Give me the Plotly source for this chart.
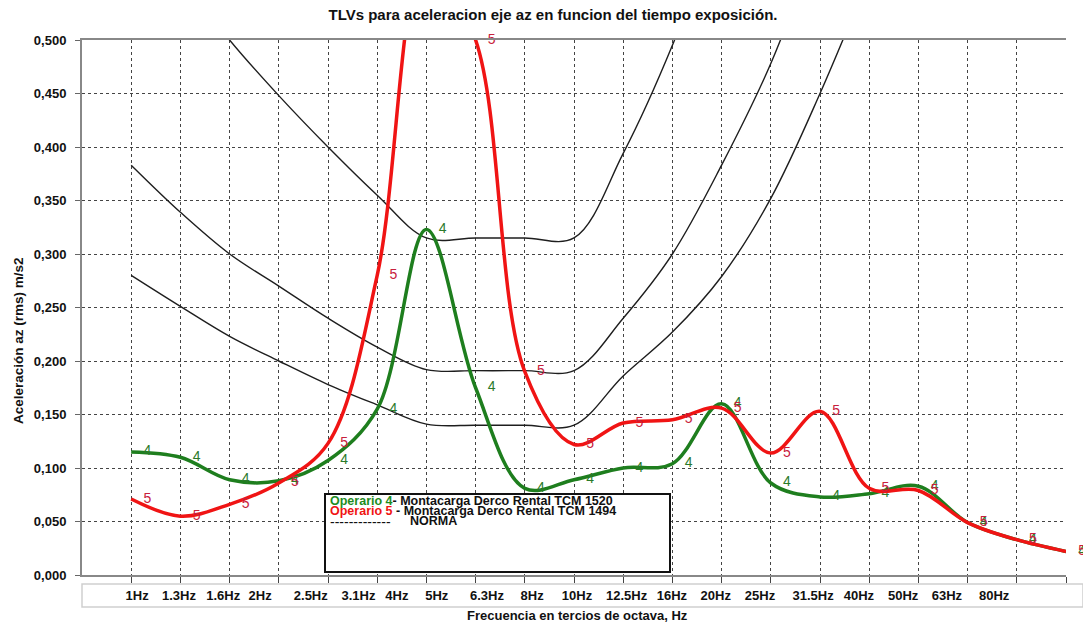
import plotly.graph_objects as go

# ---------------- data ----------------
freq_labels = ["1Hz", "1.3Hz", "1.6Hz", "2Hz", "2.5Hz", "3.1Hz", "4Hz", "5Hz", "6.3Hz", "8Hz",
               "10Hz", "12.5Hz", "16Hz", "20Hz", "25Hz", "31.5Hz", "40Hz", "50Hz", "63Hz", "80Hz"]
band_index = list(range(1, 21))

operario4 = [0.115, 0.110, 0.089, 0.088, 0.107, 0.155, 0.323, 0.175, 0.081, 0.089,
             0.100, 0.104, 0.160, 0.086, 0.073, 0.076, 0.083, 0.049, 0.033, 0.022]
operario5 = [0.071, 0.055, 0.066, 0.086, 0.123, 0.280, 0.580, 0.500, 0.190, 0.122,
             0.142, 0.145, 0.156, 0.114, 0.153, 0.081, 0.079, 0.049, 0.033, 0.022]

norma_1 = [0.630, 0.560, 0.500, 0.448, 0.400, 0.355, 0.315, 0.315, 0.315, 0.315,
           0.394, 0.495, 0.620, None, None, None, None, None, None, None]
norma_2 = [0.383, 0.339, 0.300, 0.270, 0.240, 0.213, 0.192, 0.191, 0.191, 0.191,
           0.240, 0.300, 0.383, 0.478, 0.600, None, None, None, None, None]
norma_3 = [0.280, 0.251, 0.223, 0.200, 0.178, 0.159, 0.141, 0.140, 0.140, 0.140,
           0.186, 0.227, 0.279, 0.352, 0.450, 0.560, None, None, None, None]

# ---------------- layout helpers ----------------
W, H = 1083, 625
L, R, T, B = 82, 17, 40, 50
PW, PH = W - L - R, H - T - B
FONT = "Liberation Sans, Arial, sans-serif"

def px(x):
    return (x - L) / PW

def py(y):
    return (H - B - y) / PH

# positions (in band units) where the frequency labels are printed
label_pos = [1.12, 1.97, 2.87, 3.62, 4.65, 5.62, 6.40, 7.21, 8.23, 9.15,
             10.06, 11.07, 11.99, 12.88, 13.78, 14.86, 15.79, 16.69, 17.58, 18.54]

fig = go.Figure()

for i, n in enumerate([norma_1, norma_2, norma_3]):
    fig.add_trace(go.Scatter(
        x=band_index, y=n, mode="lines", name=f"NORMA {i+1}",
        line=dict(color="#1e1e1e", width=1.4, shape="spline", smoothing=1),
        showlegend=False, hoverinfo="skip"))

fig.add_trace(go.Scatter(
    x=band_index, y=operario4, mode="lines+markers+text", name="Operario 4",
    text=["4"] * len(band_index), textposition="middle right",
    textfont=dict(family=FONT, size=14, color="#2a7a2a"),
    marker=dict(size=18, color="rgba(0,0,0,0)"),
    line=dict(color="#1e7e1e", width=3.5, shape="spline", smoothing=1),
    cliponaxis=False, showlegend=False))

fig.add_trace(go.Scatter(
    x=band_index, y=operario5, mode="lines+markers+text", name="Operario 5",
    text=["5"] * len(band_index), textposition="middle right",
    textfont=dict(family=FONT, size=14, color="#c8203c"),
    marker=dict(size=18, color="rgba(0,0,0,0)"),
    line=dict(color="#f01414", width=3.5, shape="spline", smoothing=1),
    cliponaxis=False, showlegend=False))

# invisible trace to carry the label axis
fig.add_trace(go.Scatter(x=[0, 20], y=[None, None], xaxis="x2", mode="lines",
                         showlegend=False, hoverinfo="skip"))

fig.update_layout(
    width=W, height=H,
    margin=dict(l=L, r=R, t=T, b=B, autoexpand=False),
    paper_bgcolor="white", plot_bgcolor="white",
    separators=",.",
    font=dict(family=FONT, color="#111"),
    title=dict(text="<b>TLVs para aceleracion eje az en funcion del tiempo exposición.</b>",
               x=px(553), xref="paper", xanchor="center",
               y=1 - 15 / H, yref="container", yanchor="middle",
               font=dict(family=FONT, size=15, color="#111")),
    xaxis=dict(range=[0, 20], tickvals=band_index, showticklabels=False,
               ticks="outside", ticklen=6, tickcolor="#444",
               showgrid=True, gridcolor="#444", griddash="dot", gridwidth=1,
               showline=True, linecolor="#888", linewidth=2, mirror=True,
               zeroline=False),
    xaxis2=dict(range=[0, 20], overlaying="x", anchor="y", side="bottom",
                tickvals=label_pos, ticktext=freq_labels,
                ticks="outside", ticklen=8, tickcolor="rgba(0,0,0,0)",
                tickfont=dict(family=FONT, size=13, color="#111", weight="bold"),
                showgrid=False, showline=False, zeroline=False),
    yaxis=dict(range=[0, 0.5], dtick=0.05, tickformat=".3f",
               tickfont=dict(family=FONT, size=13, color="#111", weight="bold"),
               ticks="outside", ticklen=5, tickcolor="#666", ticklabelstandoff=6,
               showgrid=True, gridcolor="#444", griddash="dot", gridwidth=1,
               showline=True, linecolor="#888", linewidth=2,
               zeroline=False),
)

shapes = [
    # frame behind the frequency labels
    dict(type="rect", xref="paper", yref="paper", x0=px(82), x1=px(1083), y0=py(607), y1=py(584),
         line=dict(color="#cfcfcf", width=1.5), fillcolor="white", layer="below"),
    # legend box
    dict(type="rect", xref="paper", yref="paper", x0=px(325), x1=px(670), y0=py(572), y1=py(494),
         line=dict(color="#111", width=2), fillcolor="white", layer="above"),
]
fig.update_layout(shapes=shapes)

ann = [
    dict(text="<b>Aceleración az (rms) m/s2</b>", textangle=-90, x=px(18), y=py(341),
         font=dict(size=13.5)),
    dict(text="<b>Frecuencia en tercios de octava, Hz</b>", x=px(577), y=py(615),
         font=dict(size=13)),
    dict(text="<span style='color:#1e8c1e'>Operario 4</span>- Montacarga Derco Rental TCM 1520",
         x=px(328), y=py(501), xanchor="left", font=dict(size=12.5, weight="bold")),
    dict(text="<span style='color:#f01414'>Operario 5</span> - Montacarga Derco Rental TCM 1494",
         x=px(328), y=py(511), xanchor="left", font=dict(size=12.5, weight="bold")),
    dict(text="-------------", x=px(328), y=py(522), xanchor="left", font=dict(size=14)),
    dict(text="NORMA", x=px(408), y=py(521), xanchor="left", font=dict(size=12.5, weight="bold")),
]
for a in ann:
    a.setdefault("xanchor", "center")
    a.update(xref="paper", yref="paper", yanchor="middle", showarrow=False)
    a["font"] = dict(family=FONT, color="#111", **a["font"])
fig.update_layout(annotations=ann)

fig.write_html("out.html", config={"displayModeBar": False},
               post_script="document.body.style.margin='0px';")
